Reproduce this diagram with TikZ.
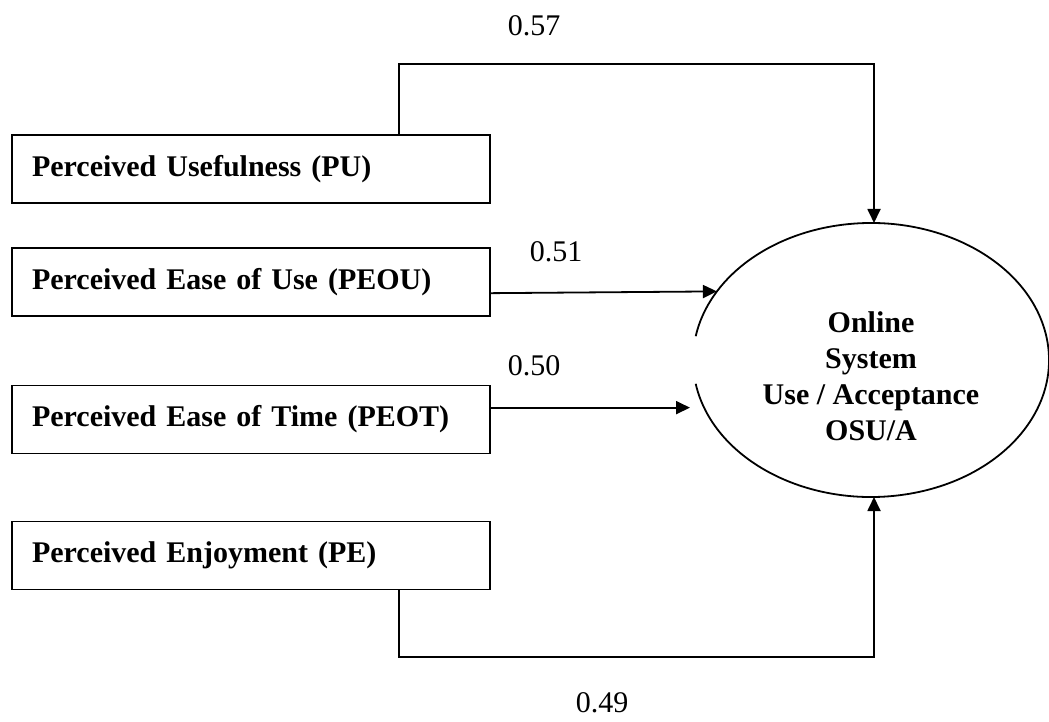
\documentclass[tikz,border=0pt]{standalone}
\usepackage{fontspec}
\setmainfont{Liberation Serif}
\usetikzlibrary{arrows.meta,shapes.geometric,calc}
\begin{document}
\begin{tikzpicture}[x=1pt,y=-1pt,
  factor/.style={draw, line width=1.8pt, rectangle, minimum width=478pt, minimum height=68pt,
    text width=438pt, inner xsep=20pt, align=left, font=\fontsize{30}{36}\selectfont\bfseries},
  outcome/.style={ellipse, minimum width=356pt, minimum height=274pt, inner sep=0pt, outer sep=0pt},
  outcometext/.style={align=center, inner sep=0pt, font=\fontsize{30}{36}\selectfont\bfseries},
  conn/.style={line width=1.8pt},
  arr/.style={conn, -{Triangle[length=14pt,width=13pt]}},
  coef/.style={inner sep=0pt, font=\fontsize{30}{36}\selectfont}
]
\useasboundingbox (0,0) rectangle (1049,722);

% factor boxes
\node[factor] (pu)   at (251,169)   {Perceived Usefulness (PU)};
\node[factor] (peou) at (251,282)   {Perceived Ease of Use (PEOU)};
\node[factor] (peot) at (251,419.5) {Perceived Ease of Time (PEOT)};
\node[factor] (pe)   at (251,555.5) {Perceived Enjoyment (PE)};

% outcome ellipse (outline has a small gap on its left side)
\node[outcome] (osu) at (871,360) {};
\draw[conn] (osu.center) ++(190:178pt and 137pt)
  arc[start angle=190, end angle=530, x radius=178pt, y radius=137pt];
\node[outcometext] (osutext) at ([yshift=-16pt]osu.center) {Online\\System\\Use / Acceptance\\OSU/A};

% routing points
\coordinate (tl) at (399,64);
\coordinate (tr) at (874,64);
\coordinate (bl) at (399,657);
\coordinate (br) at (874,657);
\coordinate (peouout) at ($(peou.north east)!0.66!(peou.south east)$);
\coordinate (peotout) at ($(peot.north east)!0.33!(peot.south east)$);

% connectors
\draw[arr] (pu.north -| tl) -- (tl) -- (tr) -- (osu.north -| tr);
\draw[arr] (peouout) -- (osu.156.6);
\draw[arr, shorten >=3pt] (peotout) -- (osu.west |- peotout);
\draw[arr] (pe.south -| bl) -- (bl) -- (br) -- (osu.south -| br);

% coefficients
\node[coef] (l57) at (534,26)  {0.57};
\node[coef] (l51) at (556,252) {0.51};
\node[coef] (l50) at (534,366) {0.50};
\node[coef] (l49) at (602,703) {0.49};
\end{tikzpicture}
\end{document}
